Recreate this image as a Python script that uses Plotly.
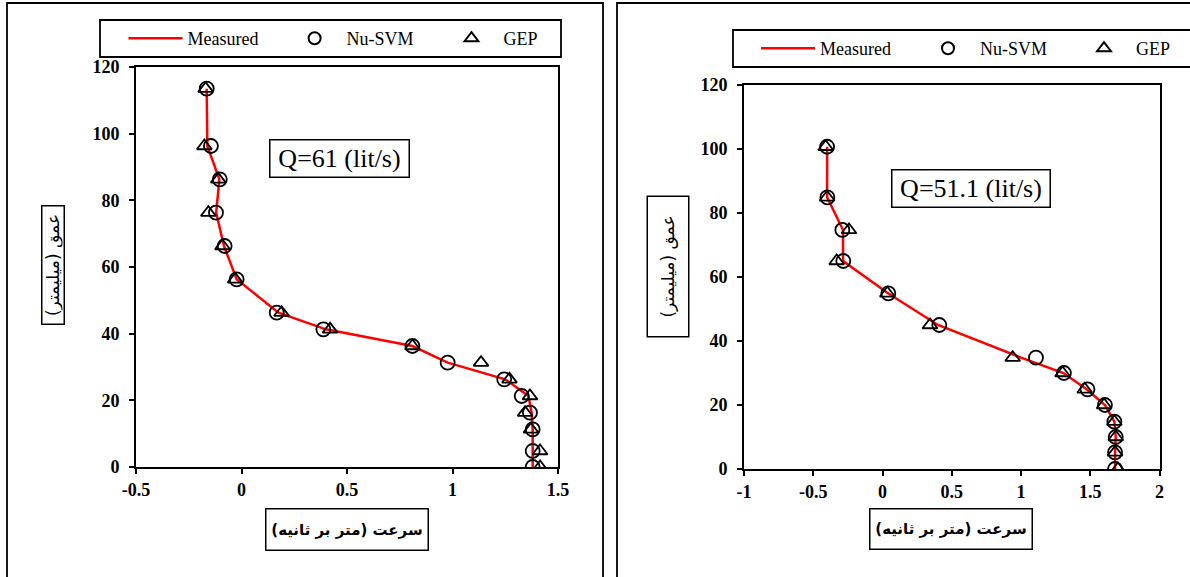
import plotly.graph_objects as go

# ---------------- data ----------------
# Left panel: Q = 61 lit/s
depth_61 = [113.5, 96.3, 86.3, 76.3, 66.3, 56.3, 46.3, 41.3, 36.3, 31.3, 26.3, 21.3, 16.3, 11.3, 4.8, 0]
measured_61 = [-0.165, -0.162, -0.105, -0.120, -0.083, -0.023, 0.175, 0.400, 0.810, 0.977, 1.250, 1.360, 1.375, 1.380, 1.380, 1.380]
nusvm_61 = [-0.165, -0.145, -0.103, -0.121, -0.080, -0.023, 0.167, 0.388, 0.810, 0.977, 1.245, 1.328, 1.367, 1.380, 1.380, 1.380]
gep_61 = [-0.170, -0.176, -0.110, -0.157, -0.090, -0.030, 0.190, 0.420, 0.810, 1.135, 1.270, 1.367, 1.344, 1.372, 1.415, 1.415]

# Right panel: Q = 51.1 lit/s
depth_51 = [100.7, 84.9, 74.7, 65.0, 54.9, 45.0, 34.8, 30.0, 24.9, 20.0, 14.8, 10.0, 5.2, 0]
measured_51 = [-0.400, -0.400, -0.285, -0.285, 0.040, 0.400, 1.000, 1.306, 1.474, 1.606, 1.674, 1.684, 1.679, 1.679]
nusvm_51 = [-0.400, -0.398, -0.290, -0.283, 0.042, 0.410, 1.108, 1.310, 1.480, 1.606, 1.674, 1.684, 1.679, 1.679]
gep_51 = [-0.410, -0.400, -0.242, -0.331, 0.035, 0.343, 0.940, 1.300, 1.460, 1.600, 1.674, 1.684, 1.679, 1.700]

x_ticks_left = [-0.5, 0, 0.5, 1, 1.5]
x_ticklabels_left = ["-0.5", "0", "0.5", "1", "1.5"]
x_ticks_right = [-1, -0.5, 0, 0.5, 1, 1.5, 2]
x_ticklabels_right = ["-1", "-0.5", "0", "0.5", "1", "1.5", "2"]
y_ticks = [0, 20, 40, 60, 80, 100, 120]

series_names = ["Measured", "Nu-SVM", "GEP"]
q_labels = ["Q=61 (lit/s)", "Q=51.1 (lit/s)"]
x_title = "سرعت (متر بر ثانیه)"
y_title = "عمق (میلیمتر)"

# ---------------- layout helpers ----------------
W, H = 1190, 577


def px(x):
    return x / W


def py(y):
    return 1 - y / H


SERIF = "Liberation Serif, Times New Roman, serif"
ARABIC = "DejaVu Sans"
RED = "#ff0000"

fig = go.Figure()


def add_panel(xa, ya, depth, meas, nu, gep, legends):
    fig.add_trace(go.Scatter(x=meas, y=depth, mode="lines", name=series_names[0],
                             line=dict(color=RED, width=2.5), xaxis=xa, yaxis=ya,
                             legend=legends[0], showlegend=True, hoverinfo="skip"))
    fig.add_trace(go.Scatter(x=nu, y=depth, mode="markers", name=series_names[1],
                             marker=dict(symbol="circle-open", size=14, color="black",
                                         line=dict(width=1.8, color="black")),
                             xaxis=xa, yaxis=ya, legend=legends[1], showlegend=True,
                             hoverinfo="skip"))
    fig.add_trace(go.Scatter(x=gep, y=depth, mode="markers", name=series_names[2],
                             marker=dict(symbol="triangle-up-open", size=13, color="black",
                                         line=dict(width=1.8, color="black")),
                             xaxis=xa, yaxis=ya, legend=legends[2], showlegend=True,
                             hoverinfo="skip"))


add_panel("x", "y", depth_61, measured_61, nusvm_61, gep_61, ["legend", "legend2", "legend3"])
add_panel("x2", "y2", depth_51, measured_51, nusvm_51, gep_51, ["legend4", "legend5", "legend6"])

tickfont = dict(family=SERIF, size=18, color="black", weight="bold")
axis_common = dict(showline=True, linecolor="black", linewidth=2, mirror=True,
                   ticks="outside", ticklen=5, tickwidth=1.5, tickcolor="black",
                   showgrid=False, zeroline=False, tickfont=tickfont, fixedrange=True)

layout = dict(
    width=W, height=H, margin=dict(l=0, r=0, t=0, b=0, autoexpand=False), showlegend=True,
    paper_bgcolor="white", plot_bgcolor="white", hovermode=False,
    xaxis=dict(domain=[px(136), px(558)], range=[-0.5, 1.5], tickvals=x_ticks_left,
               ticktext=x_ticklabels_left, anchor="y", **axis_common),
    yaxis=dict(domain=[py(467), py(67)], range=[0, 120], tickvals=y_ticks,
               anchor="x", ticklabelstandoff=6, **axis_common),
    xaxis2=dict(domain=[px(744), px(1159.5)], range=[-1, 2], tickvals=x_ticks_right,
                ticktext=x_ticklabels_right, anchor="y2", **axis_common),
    yaxis2=dict(domain=[py(469), py(85)], range=[0, 120], tickvals=y_ticks,
                anchor="x2", ticklabelstandoff=6, **axis_common),
)

# legends: one per entry, placed inside drawn boxes
leg_font = dict(family=SERIF, size=18, color="black")
leg_pos = {
    "legend": (123.5, 38.5), "legend2": (282.6, 38.5), "legend3": (439.5, 38.5),
    "legend4": (756, 48.5), "legend5": (916, 48.5), "legend6": (1072, 48.5),
}
for k, (lx, ly) in leg_pos.items():
    sizing = "trace" if k in ("legend", "legend4") else "constant"
    layout[k] = dict(x=px(lx), y=py(ly), xanchor="left", yanchor="middle",
                     orientation="h", bgcolor="rgba(0,0,0,0)", borderwidth=0,
                     font=leg_font, itemwidth=54, itemsizing=sizing,
                     itemclick=False, itemdoubleclick=False)

fig.update_layout(**layout)

# frames and legend boxes
shapes = [
    dict(x0=7, x1=603, y0=3, y1=590),
    dict(x0=617, x1=1200, y0=3, y1=590),
    dict(x0=100, x1=561, y0=20, y1=57),
    dict(x0=733, x1=1200, y0=30, y1=67),
]
for s in shapes:
    fig.add_shape(type="rect", xref="paper", yref="paper",
                  x0=px(s["x0"]), x1=px(s["x1"]), y0=py(s["y1"]), y1=py(s["y0"]),
                  line=dict(color="black", width=1.8), fillcolor="rgba(0,0,0,0)")


def boxed(text, cx, cy, w, h, font, angle=0):
    fig.add_annotation(text=text, xref="paper", yref="paper", x=px(cx), y=py(cy),
                       xanchor="center", yanchor="middle", showarrow=False,
                       width=w, height=h, textangle=angle, align="center", valign="middle",
                       bordercolor="black", borderwidth=1.5, borderpad=1,
                       bgcolor="white", font=font)


qfont = dict(family=SERIF, size=26, color="black")
boxed(q_labels[0], 339.5, 158.5, 136, 34, qfont)
boxed(q_labels[1], 971, 188.5, 155, 34, qfont)

xfont = dict(family=ARABIC, size=15, color="black", weight="bold")
boxed(x_title, 347, 529.5, 159, 38, xfont)
boxed(x_title, 951, 529, 159, 37, xfont)

yfont = dict(family=ARABIC, size=17, color="black")
boxed(y_title, 53, 265, 115, 19, yfont, angle=-90)
boxed(y_title, 667.5, 267, 137, 38, yfont, angle=-90)

fig.write_html("out.html", config={"displayModeBar": False},
               post_script="document.body.style.margin='0';document.body.style.overflow='hidden';")
